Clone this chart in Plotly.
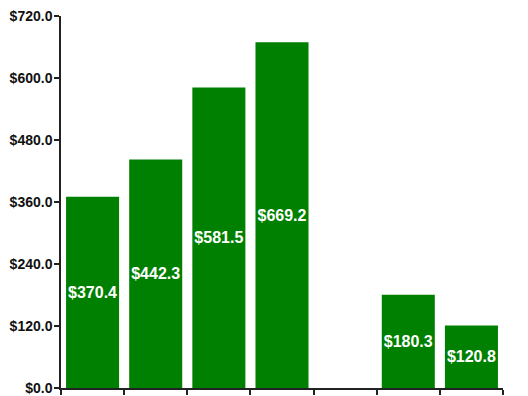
import plotly.graph_objects as go

# Spending per category (the fifth slot has no value)
categories = ["C1", "C2", "C3", "C4", "C5", "C6", "C7"]
values = [370.4, 442.3, 581.5, 669.2, None, 180.3, 120.8]
y_ticks = [0, 120, 240, 360, 480, 600, 720]

labels = ["" if v is None else f"${v:.1f}" for v in values]
FONT = "Liberation Sans, Arial, sans-serif"

fig = go.Figure(
    go.Bar(
        x=categories,
        y=values,
        text=labels,
        textposition="inside",
        insidetextanchor="middle",
        textangle=0,
        constraintext="none",
        textfont=dict(family=FONT, size=16, color="white", weight="bold"),
        marker=dict(color="#008000", line=dict(width=0)),
        hoverinfo="skip",
    )
)

fig.update_layout(
    width=528,
    height=396,
    margin=dict(l=61, r=25, t=16, b=8, autoexpand=False),
    paper_bgcolor="white",
    plot_bgcolor="white",
    bargap=0.16,
    showlegend=False,
    font=dict(family=FONT, color="#111"),
)

fig.update_xaxes(
    type="category",
    automargin=False,
    showticklabels=False,
    tickson="boundaries",
    ticks="outside",
    ticklen=5,
    tickwidth=1.5,
    tickcolor="#222",
    showline=True,
    linecolor="#222",
    linewidth=1.5,
    showgrid=False,
    zeroline=False,
)

fig.update_yaxes(
    automargin=False,
    range=[0, 720],
    tickvals=y_ticks,
    ticktext=[f"${t:.1f}" for t in y_ticks],
    ticks="outside",
    ticklen=5,
    tickwidth=1.5,
    tickcolor="#222",
    tickfont=dict(family=FONT, size=14, weight="bold", color="#111"),
    ticklabelstandoff=-1,
    showline=True,
    linecolor="#222",
    linewidth=1.5,
    showgrid=False,
    zeroline=False,
)

fig.write_html("out.html")
